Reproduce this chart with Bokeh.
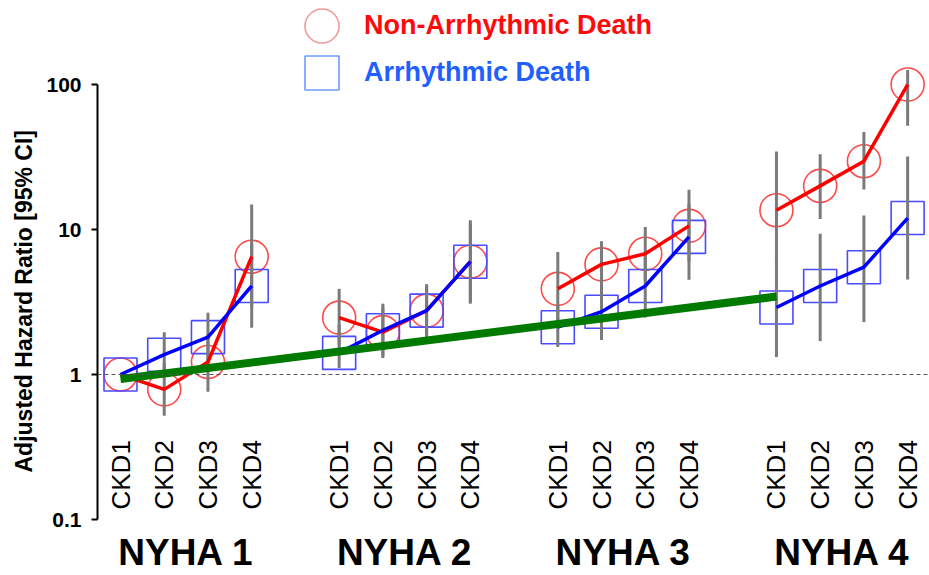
import numpy as np
from bokeh.plotting import figure
from bokeh.models import (ColumnDataSource, Range1d, FixedTicker, Span,
                          Legend, LegendItem, Title)
from bokeh.embed import file_html
from bokeh.resources import INLINE
from bokeh.core.properties import value

nan = float("nan")

# ---------------- data ----------------
groups = ["NYHA 1", "NYHA 2", "NYHA 3", "NYHA 4"]
stages = ["CKD1", "CKD2", "CKD3", "CKD4"]

# Non-arrhythmic death: adjusted HR and 95% CI (per NYHA group, CKD1..CKD4)
nonarr_hr = [1.0, 0.79, 1.22, 6.5,
             2.47, 1.96, 2.76, 6.0,
             3.9, 5.75, 6.8, 10.6,
             13.6, 20.0, 29.6, 100.0]
nonarr_lo = [nan, 0.52, 0.76, 2.9,
             1.6, 1.3, 1.81, 3.08,
             2.2, 3.6, 4.4, 6.0,
             6.2, 11.8, 18.9, 52.0]
nonarr_hi = [nan, 1.2, 1.9, 14.9,
             3.9, 2.9, 4.2, 11.6,
             7.0, 8.3, 10.4, 18.8,
             34.6, 33.0, 47.0, 126.0]

# Arrhythmic death
arr_hr = [1.0, 1.37, 1.81, 4.08,
          1.41, 2.02, 2.76, 6.0,
          2.12, 2.71, 4.08, 8.9,
          2.9, 4.08, 5.5, 12.0]
arr_lo = [nan, 0.95, 1.2, 2.1,
          1.11, 1.35, 1.85, 3.2,
          1.55, 1.73, 2.47, 4.5,
          1.32, 1.70, 2.30, 4.52]
arr_hi = [nan, 1.96, 2.67, 8.0,
          2.2, 3.08, 4.1, 11.0,
          3.0, 4.3, 6.8, 15.0,
          6.5, 9.36, 12.5, 31.9]

# green trend line from NYHA1/CKD1 to NYHA4/CKD1
trend_hr = [0.93, 3.45]

y_ticks = [0.1, 1, 10, 100]
y_tick_labels = ["0.1", "1", "10", "100"]

# ---------------- layout helpers ----------------
GAP = 5  # slot spacing between NYHA groups
xs = [GAP * g + i for g in range(len(groups)) for i in range(len(stages))]
ckd_labels = [s for g in groups for s in stages]
group_centers = [GAP * g + (len(stages) - 1) / 2 for g in range(len(groups))]
trend_x = [xs[0], xs[3 * len(stages)]]

RED = "#ff0000"
BLUE = "#0000ff"
FONT = "Liberation Sans"

p = figure(width=929, height=575, y_axis_type="log",
           x_range=Range1d(-0.526, 18.5), y_range=Range1d(0.1, 380),
           output_backend="svg", toolbar_location=None,
           min_border_left=97, min_border_right=0,
           min_border_top=0, min_border_bottom=47)
p.outline_line_color = None
p.grid.visible = False
p.background_fill_color = "white"
p.border_fill_color = "white"

# y axis
ya = p.yaxis[0]
ya.ticker = FixedTicker(ticks=y_ticks, minor_ticks=[])
ya.major_label_overrides = {t: l for t, l in zip(y_ticks, y_tick_labels)}
ya.bounds = (y_ticks[0], y_ticks[-1])
ya.axis_line_width = 2
ya.axis_line_color = "black"
ya.major_tick_line_width = 2
ya.major_tick_out = 6
ya.major_tick_in = 0
ya.major_label_standoff = 10
ya.major_label_text_font = FONT
ya.major_label_text_font_style = "bold"
ya.major_label_text_font_size = "21px"
ya.major_label_text_color = "black"

# y axis title as a side title, placed along the axis line span
p.add_layout(Title(text="Adjusted Hazard Ratio [95% CI]", align="left",
                   offset=47, text_font=FONT, text_font_style="bold",
                   text_font_size="23px", text_color="black", standoff=13),
             "left")

# x axis: NYHA group labels
xa = p.xaxis[0]
xa.ticker = FixedTicker(ticks=group_centers, minor_ticks=[])
xa.major_label_overrides = {c: g for c, g in zip(group_centers, groups)}
xa.axis_line_color = None
xa.major_tick_line_color = None
xa.minor_tick_line_color = None
xa.major_label_standoff = 6
xa.major_label_text_font = FONT
xa.major_label_text_font_style = "bold"
xa.major_label_text_font_size = "37px"
xa.major_label_text_color = "black"

# reference line at HR = 1
p.add_layout(Span(location=1, dimension="width", line_color="#555555",
                  line_dash="4 3", line_width=1))

src = ColumnDataSource(dict(x=xs, nhr=nonarr_hr, nlo=nonarr_lo, nhi=nonarr_hi,
                            ahr=arr_hr, alo=arr_lo, ahi=arr_hi,
                            lab=ckd_labels, yb=[y_ticks[0]] * len(xs)))

# markers (hollow)
p.scatter("x", "nhr", source=src, marker="circle", size=33, fill_alpha=0,
          line_color="#ff4a4a", line_width=1.6)
p.scatter("x", "ahr", source=src, marker="square", size=33, fill_alpha=0,
          line_color="#4a4aff", line_width=1.6)

# error bars
p.segment("x", "nlo", "x", "nhi", source=src, line_color="#7a7a7a", line_width=3)
p.segment("x", "alo", "x", "ahi", source=src, line_color="#7a7a7a", line_width=3)

# connecting lines per group
n = len(stages)
gx = [xs[g * n:(g + 1) * n] for g in range(len(groups))]
p.multi_line(gx, [nonarr_hr[g * n:(g + 1) * n] for g in range(len(groups))],
             line_color=RED, line_width=3.5)
p.multi_line(gx, [arr_hr[g * n:(g + 1) * n] for g in range(len(groups))],
             line_color=BLUE, line_width=3.5)

# trend line
p.line(trend_x, trend_hr, line_color="#007a00", line_width=8)

# CKD labels inside plot, rotated
p.text("x", "yb", text="lab", source=src, angle=np.pi / 2, text_align="left",
       text_baseline="middle", y_offset=-10, text_font=value(FONT),
       text_font_size="26px", text_color="black")

# legend-only renderers (no visible data)
leg_c = p.scatter([nan], [nan], marker="circle", size=34, fill_alpha=0,
                  line_color="#f29a9a", line_width=1.6)
leg_s = p.scatter([nan], [nan], marker="square", size=34, fill_alpha=0,
                  line_color="#6f9cff", line_width=1.6)

def make_legend(label, rend, color, loc):
    return Legend(items=[LegendItem(label=label, renderers=[rend])],
                  location=loc, glyph_width=85, glyph_height=85,
                  label_standoff=0, label_text_font=FONT,
                  label_text_font_style="bold", label_text_font_size="27px",
                  label_text_color=color, border_line_color=None,
                  background_fill_alpha=0, padding=0, margin=0, spacing=0)

p.add_layout(make_legend("Non-Arrhythmic Death", leg_c, "#ff0a0a", (182, 451)))
p.add_layout(make_legend("Arrhythmic Death", leg_s, "#1f5fff", (182, 404)))

open("out.html", "w").write(file_html(p, INLINE))
